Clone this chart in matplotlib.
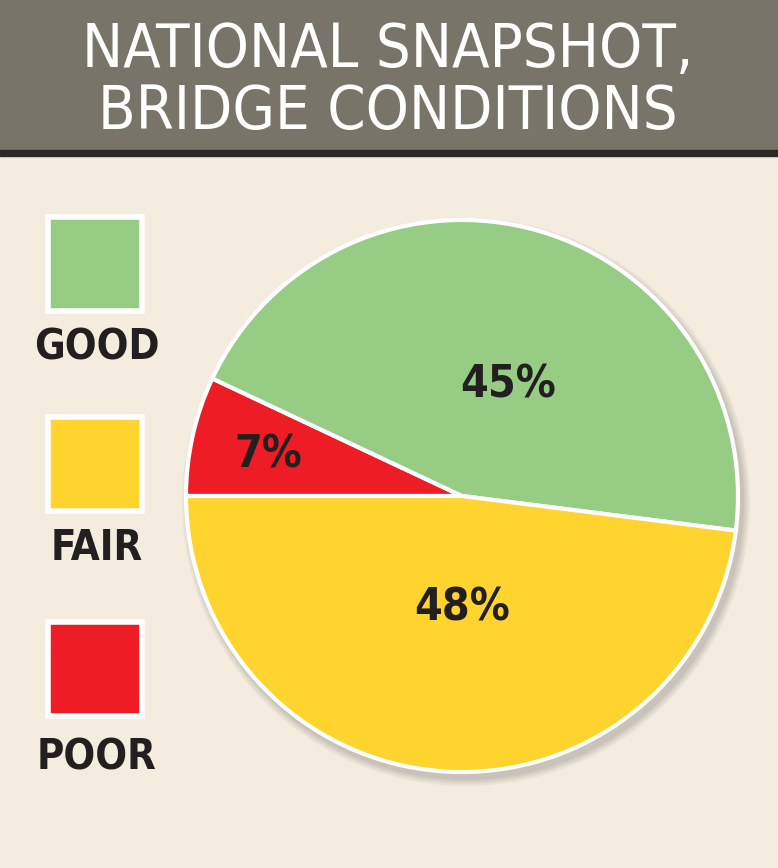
import matplotlib
matplotlib.use("Agg")
import matplotlib.pyplot as plt
from matplotlib.patches import Rectangle, Circle

categories = ["POOR", "GOOD", "FAIR"]
values = [7, 45, 48]
colors = ["#ee1c25", "#96cc84", "#ffd42f"]
labels = ["7%", "45%", "48%"]
title_lines = ["NATIONAL SNAPSHOT,", "BRIDGE CONDITIONS"]

W, H = 778, 868
fig = plt.figure(figsize=(W/100, H/100), dpi=100)
fig.patch.set_facecolor("#f3ecdf")
ax = fig.add_axes([0, 0, 1, 1])
ax.set_xlim(0, W); ax.set_ylim(0, H); ax.axis("off")

def Y(py): return H - py

ax.add_patch(Rectangle((0, Y(150)), W, 150, color="#78746a", zorder=1))
ax.add_patch(Rectangle((0, Y(156)), W, 6, color="#2b2a28", zorder=1))
ax.text(388, Y(50), title_lines[0], color="white", fontsize=44, ha="center", va="center",
        fontstretch="condensed", zorder=2)
ax.text(388, Y(112), title_lines[1], color="white", fontsize=44, ha="center", va="center",
        fontstretch="condensed", zorder=2)

cx, cy, r = 462, Y(496), 276
# soft shadow
for i, a in enumerate([0.04, 0.04, 0.05, 0.05]):
    ax.add_patch(Circle((cx + 4, cy - 6), r + 8 - 2*i, color="black", alpha=a, lw=0, zorder=2))
wedges, _ = ax.pie(values, colors=colors, startangle=180, counterclock=False,
                   center=(cx, cy), radius=r, frame=True,
                   wedgeprops=dict(edgecolor="white", linewidth=3, zorder=3))
for w in wedges: w.set_zorder(3)
ax.set_xlim(0, W); ax.set_ylim(0, H); ax.set_aspect("equal"); ax.axis("off")

lab_pos = [(268, 455), (508, 385), (462, 608)]
for t, (x, y) in zip(labels, lab_pos):
    ax.text(x, Y(y), t, fontsize=32, fontweight="bold", color="#231f20",
            ha="center", va="center", fontstretch="condensed", zorder=4)

sq_tops = [622, 217, 417]
txt_y = [758, 348, 548]
for c, name, t, ty in zip(colors, categories, sq_tops, txt_y):
    ax.add_patch(Rectangle((48, Y(t + 94)), 94, 94, facecolor=c, edgecolor="white", lw=4, zorder=3))
    ax.text(97, Y(ty), name, fontsize=30, fontweight="bold", color="#231f20",
            ha="center", va="center", fontstretch="condensed", zorder=4)

fig.savefig("out.png", dpi=100, facecolor=fig.get_facecolor())
